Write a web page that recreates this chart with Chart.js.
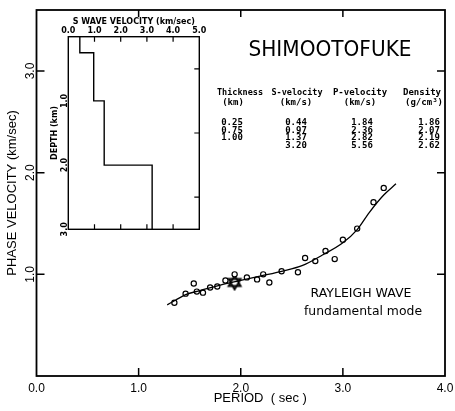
<!DOCTYPE html>
<html>
<head>
<meta charset="utf-8">
<script src="https://cdn.jsdelivr.net/npm/chart.js@4"></script>
<style>
html, body { margin: 0; padding: 0; background: #fff; }
#wrap { position: relative; width: 455px; height: 411px; }
#main { position: absolute; left: 0; top: 0; }
#inset { position: absolute; left: 40px; top: 0; }
</style>
</head>
<body>
<div id="wrap">
  <canvas id="main" width="455" height="411"></canvas>
  <canvas id="inset" width="175" height="240"></canvas>
</div>
<script>
// observed phase velocities (circles)
const periodObs = [1.35, 1.46, 1.54, 1.57, 1.63, 1.70, 1.77, 1.85, 1.94, 2.06, 2.16, 2.22, 2.28, 2.40, 2.56, 2.63, 2.73, 2.83, 2.92, 3.00, 3.14, 3.30, 3.40];
const velObs    = [0.72, 0.81, 0.91, 0.83, 0.82, 0.87, 0.88, 0.94, 1.00, 0.97, 0.95, 1.00, 0.92, 1.03, 1.02, 1.16, 1.13, 1.23, 1.15, 1.34, 1.45, 1.71, 1.85];
// star mark
const periodStar = [1.94];
const velStar    = [0.92];
// theoretical dispersion curve
const periodCurve = [1.28, 1.36, 1.46, 1.60, 1.80, 2.00, 2.20, 2.40, 2.60, 2.80, 3.00, 3.14, 3.26, 3.40, 3.52];
const velCurve    = [0.70, 0.745, 0.80, 0.84, 0.895, 0.94, 0.985, 1.03, 1.085, 1.19, 1.31, 1.44, 1.61, 1.78, 1.89];
// axis ticks
const periodTicks = [0, 1, 2, 3, 4];
const velTicks = [1, 2, 3];
const depthTicks = [1, 2, 3];
const swTicks = [0, 1, 2, 3, 4, 5];

// structure model (table + inset)
const thickness = [0.25, 0.75, 1.00];
const sVelocity = [0.44, 0.97, 1.37, 3.20];
const pVelocity = [1.84, 2.36, 2.82, 5.56];
const density   = [1.86, 2.07, 2.19, 2.62];
const tableHead1 = ["Thickness", "S-velocity", "P-velocity", "Density"];
const tableHead2 = ["(km)", "(km/s)", "(km/s)", "(g/cm\u00B3)"];
const siteName = "SHIMOOTOFUKE";
const waveText = ["RAYLEIGH WAVE", "fundamental mode"];
const maxDepth = 3.0;

function zip(xs, ys) { return xs.map((x, i) => ({ x: x, y: ys[i] })); }

// hexagram point
function hexagram() {
  const c = document.createElement("canvas");
  c.width = 18; c.height = 18;
  const g = c.getContext("2d");
  g.strokeStyle = "#000"; g.lineWidth = 1.8;
  for (let k = 0; k < 2; k++) {
    g.beginPath();
    for (let i = 0; i < 3; i++) {
      const a = -Math.PI / 2 + k * Math.PI + i * 2 * Math.PI / 3;
      const px = 9 + 7 * Math.cos(a), py = 9 + 7 * Math.sin(a);
      if (i === 0) g.moveTo(px, py); else g.lineTo(px, py);
    }
    g.closePath(); g.stroke();
  }
  return c;
}

const fixedTicks = (vals) => (s) => { s.ticks = vals.map(v => ({ value: v })); };

const mainFrame = {
  id: "mainFrame",
  afterDraw(chart) {
    const { ctx, chartArea: a, scales: { x, y } } = chart;
    ctx.save();
    ctx.strokeStyle = "#000";
    ctx.lineWidth = 1.8;
    ctx.strokeRect(a.left, a.top, a.right - a.left, a.bottom - a.top);
    ctx.lineWidth = 1.5;
    ctx.beginPath();
    periodTicks.slice(1, -1).forEach(v => {
      const px = x.getPixelForValue(v);
      ctx.moveTo(px, a.bottom); ctx.lineTo(px, a.bottom - 8);
      ctx.moveTo(px, a.top); ctx.lineTo(px, a.top + 7);
    });
    velTicks.forEach(v => {
      const py = y.getPixelForValue(v);
      ctx.moveTo(a.left, py); ctx.lineTo(a.left + 8, py);
      ctx.moveTo(a.right, py); ctx.lineTo(a.right - 8, py);
    });
    ctx.stroke();

    // site name
    ctx.fillStyle = "#000";
    ctx.textAlign = "center";
    ctx.textBaseline = "middle";
    ctx.font = "22px 'DejaVu Sans'";
    ctx.fillText(siteName, 330, 50, 163);

    // table
    ctx.font = "bold 9px 'DejaVu Sans Mono'";
    const hx = [240, 297, 360, 422];
    const h2x = [233, 296, 360, 424];
    const vx = [232, 296, 362, 429];
    const hw = [46, 51, 57, 38];
    tableHead1.forEach((t, i) => ctx.fillText(t, hx[i], 93, hw[i]));
    tableHead2.forEach((t, i) => ctx.fillText(t, h2x[i], 102.5));
    const rowY = [123, 130.5, 138, 145.5];
    const cols = [thickness, sVelocity, pVelocity, density];
    cols.forEach((col, c) => col.forEach((v, r) => ctx.fillText(v.toFixed(2), vx[c], rowY[r], 22)));

    // wave label
    ctx.font = "13px 'DejaVu Sans'";
    ctx.fillText(waveText[0], 361, 294, 101);
    ctx.fillText(waveText[1], 363, 312, 118);
    ctx.restore();
  }
};

new Chart(document.getElementById("main"), {
  type: "scatter",
  data: {
    datasets: [
      {
        type: "line",
        data: zip(periodCurve, velCurve),
        borderColor: "#000",
        borderWidth: 1.3,
        pointRadius: 0,
        cubicInterpolationMode: "monotone",
        fill: false
      },
      {
        data: zip(periodObs, velObs),
        pointStyle: "circle",
        pointRadius: 2.6,
        borderColor: "#000",
        backgroundColor: "#fff",
        borderWidth: 1.2
      },
      {
        data: zip(periodStar, velStar),
        pointStyle: hexagram(),
        pointRadius: 9
      }
    ]
  },
  options: {
    responsive: false,
    devicePixelRatio: 1,
    animation: false,
    layout: { padding: { top: 9, right: 7, left: 0, bottom: 0 } },
    plugins: { legend: { display: false }, tooltip: { enabled: false } },
    scales: {
      x: {
        type: "linear",
        min: 0, max: 4,
        grid: { display: false, drawTicks: false },
        border: { display: false },
        afterBuildTicks: fixedTicks(periodTicks),
        ticks: {
          color: "#000",
          padding: 5,
          font: { family: "'Liberation Sans'", size: 12 },
          callback: v => v.toFixed(1),
          maxRotation: 0, minRotation: 0
        },
        title: {
          display: true,
          text: "\u2003\u2003\u2003PERIOD  ( sec )",
          color: "#000",
          font: { family: "'Liberation Sans'", size: 13 },
          padding: { top: 0, bottom: 5 }
        },
        afterFit: s => { s.height = 35; s.paddingLeft = 0; s.paddingRight = 0; }
      },
      y: {
        type: "linear",
        min: 0, max: 3.6,
        grid: { display: false, drawTicks: false },
        border: { display: false },
        afterBuildTicks: fixedTicks(velTicks),
        ticks: {
          color: "#000",
          padding: -3,
          crossAlign: "center",
          minRotation: 90, maxRotation: 90,
          font: { family: "'Liberation Sans'", size: 12 },
          callback: v => v.toFixed(1)
        },
        title: {
          display: true,
          text: "PHASE VELOCITY (km/sec)",
          color: "#000",
          font: { family: "'Liberation Sans'", size: 13 },
          padding: { top: 5, bottom: 0 }
        },
        afterFit: s => { s.width = 36.5; s.paddingTop = 0; s.paddingBottom = 0; }
      }
    }
  },
  plugins: [mainFrame]
});

// inset: S wave velocity profile built from the layer table
const profile = [];
let layerTop = 0;
sVelocity.forEach((v, i) => {
  const layerBottom = i < thickness.length ? layerTop + thickness[i] : maxDepth;
  profile.push({ x: v, y: layerTop }, { x: v, y: layerBottom });
  layerTop = layerBottom;
});

const insetFrame = {
  id: "insetFrame",
  afterDraw(chart) {
    const { ctx, chartArea: a, scales: { x, y } } = chart;
    ctx.save();
    ctx.strokeStyle = "#000";
    ctx.lineWidth = 1.4;
    ctx.strokeRect(a.left, a.top, a.right - a.left, a.bottom - a.top);
    ctx.lineWidth = 1.2;
    ctx.beginPath();
    swTicks.slice(1, -1).forEach(v => {
      const px = x.getPixelForValue(v);
      ctx.moveTo(px, a.top); ctx.lineTo(px, a.top + 5);
      ctx.moveTo(px, a.bottom); ctx.lineTo(px, a.bottom - 5);
    });
    [0.5, 1.5, 2.5].forEach(v => {
      const py = y.getPixelForValue(v);
      ctx.moveTo(a.right, py); ctx.lineTo(a.right - 5, py);
    });
    ctx.stroke();
    ctx.restore();
  }
};

new Chart(document.getElementById("inset"), {
  type: "line",
  data: {
    datasets: [{
      data: profile,
      borderColor: "#000",
      borderWidth: 1.4,
      pointRadius: 0,
      tension: 0,
      fill: false
    }]
  },
  options: {
    responsive: false,
    devicePixelRatio: 1,
    animation: false,
    layout: { padding: { top: 0, right: 15.7, left: 0, bottom: 10.7 } },
    plugins: { legend: { display: false }, tooltip: { enabled: false } },
    scales: {
      x: {
        type: "linear",
        position: "top",
        min: 0, max: 5,
        grid: { display: false, drawTicks: false },
        border: { display: false },
        afterBuildTicks: fixedTicks(swTicks),
        ticks: {
          color: "#000",
          padding: 1,
          font: { family: "'DejaVu Sans'", size: 8, weight: "bold" },
          callback: v => v.toFixed(1),
          maxRotation: 0, minRotation: 0
        },
        title: {
          display: true,
          text: "S WAVE VELOCITY (km/sec)",
          color: "#000",
          font: { family: "'DejaVu Sans'", size: 8, weight: "bold" },
          padding: { top: 17, bottom: 0 }
        },
        afterFit: s => { s.height = 36.7; s.paddingLeft = 0; s.paddingRight = 0; }
      },
      y: {
        type: "linear",
        reverse: true,
        min: 0, max: maxDepth,
        grid: { display: false, drawTicks: false },
        border: { display: false },
        afterBuildTicks: fixedTicks(depthTicks),
        ticks: {
          color: "#000",
          padding: -3.5,
          crossAlign: "center",
          minRotation: 90, maxRotation: 90,
          font: { family: "'DejaVu Sans'", size: 8, weight: "bold" },
          callback: v => v.toFixed(1)
        },
        title: {
          display: true,
          text: "DEPTH (km)",
          color: "#000",
          font: { family: "'DejaVu Sans'", size: 8, weight: "bold" },
          padding: { top: 10, bottom: 0 }
        },
        afterFit: s => { s.width = 28.3; s.paddingTop = 0; s.paddingBottom = 0; }
      }
    }
  },
  plugins: [insetFrame]
});
</script>
</body>
</html>
